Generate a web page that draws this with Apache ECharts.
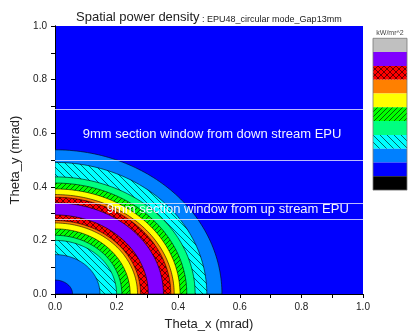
<!DOCTYPE html>
<html>
<head>
<meta charset="utf-8">
<script src="https://cdn.jsdelivr.net/npm/echarts@6/dist/echarts.min.js"></script>
<style>
  html, body { margin: 0; padding: 0; background: #fff; }
  #chart { width: 412px; height: 336px; }
</style>
</head>
<body>
<div id="chart"></div>
<script>
// contour edges (mrad), from the centre outwards, read along each axis
const radiusX = [0.057, 0.146, 0.200, 0.217, 0.244, 0.268, 0.278, 0.303, 0.352, 0.376, 0.387, 0.406, 0.428, 0.455, 0.493, 0.542];
const radiusY = [0.052, 0.147, 0.200, 0.219, 0.243, 0.265, 0.274, 0.295, 0.340, 0.361, 0.371, 0.392, 0.414, 0.437, 0.491, 0.538];
// power level of the band just inside each edge (0 = lowest, 10 = highest)
const bandLevel = [1, 2, 3, 4, 5, 6, 7, 8, 9, 8, 7, 6, 5, 4, 3, 2];
const outsideLevel = 1;

// section windows (Theta_y, mrad)
const windowLines = [0.686, 0.496, 0.343, 0.280];
const windowLabels = [
  [0.09, 0.596, '9mm section window from down stream EPU'],
  [0.168, 0.314, '9mm section window from up stream EPU']
];

/* hatch fills */
function hatch(base, kind, s) {
  const c = document.createElement('canvas');
  c.width = s; c.height = s;
  const g = c.getContext('2d');
  g.fillStyle = base;
  g.fillRect(0, 0, s, s);
  g.strokeStyle = '#000';
  g.lineWidth = 0.6;
  g.beginPath();
  for (let k = -1; k <= 1; k++) {
    if (kind === 'back' || kind === 'cross') { g.moveTo(k * s, 0); g.lineTo(k * s + s, s); }
    if (kind === 'fwd' || kind === 'cross') { g.moveTo(k * s, s); g.lineTo(k * s + s, 0); }
  }
  g.stroke();
  return { image: c, repeat: 'repeat' };
}

const levelFill = [
  '#000000',
  '#0000FF',
  '#0080FF',
  hatch('#00FFFF', 'back', 7),
  '#00FF80',
  hatch('#00FF00', 'fwd', 5),
  '#FFFF00',
  '#FF8000',
  hatch('#FF0000', 'cross', 6),
  '#8000FF',
  '#C0C0C0'
];

// largest first so the inner ones paint on top
const disks = radiusX.map((r, i) => [r, radiusY[i], bandLevel[i]]).reverse();

const chart = echarts.init(document.getElementById('chart'));

const legendTop = 38.3, legendH = 13.8;
const legendRects = [];
for (let lv = 10; lv >= 0; lv--) {
  legendRects.push({
    type: 'rect',
    shape: { x: 373, y: legendTop + (10 - lv) * legendH, width: 34, height: legendH },
    style: { fill: levelFill[lv] }
  });
}
legendRects.push({
  type: 'rect',
  shape: { x: 373, y: legendTop, width: 34, height: 11 * legendH },
  style: { fill: 'none', stroke: '#777', lineWidth: 0.8 }
});
legendRects.push({
  type: 'text',
  style: { x: 390, y: 33, text: 'kW/mr^2', fontSize: 7, fill: '#444', align: 'center', verticalAlign: 'middle', fontFamily: 'Liberation Sans' }
});

const axisText = { color: '#222', fontSize: 10, fontFamily: 'Liberation Sans' };
const oddHide = v => (Math.round(v * 10) % 2 === 0 ? v.toFixed(1) : '');

chart.setOption({
  animation: false,
  backgroundColor: '#fff',
  title: {
    left: 71, top: 6,
    text: '{a|Spatial power density}{b| : EPU48_circular mode_Gap13mm}',
    textStyle: {
      fontWeight: 'normal',
      rich: {
        a: { fontSize: 13, color: '#222', fontWeight: 'normal', fontFamily: 'Liberation Sans' },
        b: { fontSize: 9, color: '#222', fontWeight: 'normal', fontFamily: 'Liberation Sans', verticalAlign: 'bottom' }
      }
    }
  },
  grid: { left: 55, right: 49, top: 26, bottom: 40, show: true, backgroundColor: levelFill[outsideLevel], borderWidth: 0 },
  xAxis: [
    {
      type: 'value', min: 0, max: 1, interval: 0.1, position: 'bottom',
      name: 'Theta_x (mrad)', nameLocation: 'middle', nameGap: 24,
      nameTextStyle: { color: '#222', fontSize: 13, fontFamily: 'Liberation Sans' },
      axisLine: { lineStyle: { color: '#000', width: 1 } },
      axisTick: { inside: false, length: 4, lineStyle: { color: '#000' } },
      axisLabel: Object.assign({ margin: 8, formatter: oddHide, showMinLabel: true, showMaxLabel: true }, axisText),
      splitLine: { show: false }
    },
    {
      type: 'value', min: 0, max: 1, interval: 0.1, position: 'top',
      axisLine: { lineStyle: { color: '#000', width: 1 } },
      axisTick: { inside: true, length: 3, lineStyle: { color: '#000' } },
      axisLabel: { show: false }, splitLine: { show: false }
    }
  ],
  yAxis: [
    {
      type: 'value', min: 0, max: 1, interval: 0.1, position: 'left',
      name: 'Theta_y (mrad)', nameLocation: 'middle', nameGap: 25,
      nameTextStyle: { color: '#222', fontSize: 13, fontFamily: 'Liberation Sans' },
      axisLine: { show: true, lineStyle: { color: '#000', width: 1 } },
      axisTick: { show: true, inside: false, length: 4, lineStyle: { color: '#000' } },
      axisLabel: Object.assign({ margin: 8, formatter: oddHide }, axisText),
      splitLine: { show: false }
    },
    {
      type: 'value', min: 0, max: 1, interval: 0.1, position: 'right',
      axisLine: { show: true, lineStyle: { color: '#000', width: 1 } },
      axisTick: { show: true, inside: true, length: 3, lineStyle: { color: '#000' } },
      axisLabel: { show: false }, splitLine: { show: false }
    }
  ],
  graphic: legendRects,
  series: [
    {
      type: 'custom',
      clip: true,
      data: disks,
      renderItem(params, api) {
        const rx = api.value(0), ry = api.value(1), lv = api.value(2);
        const pts = [api.coord([0, 0])];
        for (let i = 0; i <= 72; i++) {
          const t = (i / 72) * Math.PI / 2;
          pts.push(api.coord([rx * Math.cos(t), ry * Math.sin(t)]));
        }
        return {
          type: 'polygon',
          shape: { points: pts },
          style: { fill: levelFill[lv], stroke: '#000', lineWidth: 0.6 }
        };
      },
      markLine: {
        silent: true, symbol: 'none', label: { show: false },
        lineStyle: { color: 'rgba(235,235,255,0.8)', width: 1, type: 'solid' },
        data: windowLines.map(y => ({ yAxis: y }))
      },
      z: 2
    },
    {
      type: 'custom',
      data: windowLabels,
      renderItem(params, api) {
        const p = api.coord([api.value(0), api.value(1)]);
        return {
          type: 'text',
          x: p[0], y: p[1],
          style: { text: windowLabels[params.dataIndex][2], fill: '#F4F4FF', fontSize: 13, fontFamily: 'Liberation Sans', align: 'left', verticalAlign: 'middle' }
        };
      },
      z: 5
    }
  ]
});
</script>
</body>
</html>
